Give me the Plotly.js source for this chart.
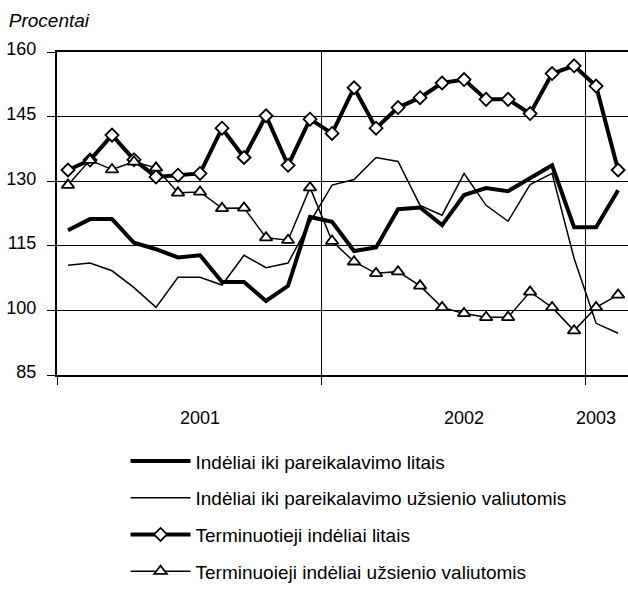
<!DOCTYPE html>
<html>
<head>
<meta charset="utf-8">
<script src="https://cdn.plot.ly/plotly-3.0.1.min.js"></script>
<style>html,body{margin:0;padding:0;background:#fff;}#chart{width:628px;height:594px;}</style>
</head>
<body>
<div id="chart"></div>
<script>
// period index (monthly observations)
const periods = [0,1,2,3,4,5,6,7,8,9,10,11,12,13,14,15,16,17,18,19,20,21,22,23,24,25];
const tickPositions = [6, 18, 24];
const tickLabels = ['2001', '2002', '2003'];
const yearBoundaries = [-0.5, 11.5, 23.5];

const seriesNames = [
  'Indėliai iki pareikalavimo litais',
  'Indėliai iki pareikalavimo užsienio valiutomis',
  'Terminuotieji indėliai litais',
  'Terminuoieji indėliai užsienio valiutomis'
];
const demandLitas = [118.6,121.2,121.2,115.7,114.2,112.3,112.8,106.6,106.6,102.2,105.7,121.7,120.6,113.8,114.6,123.5,123.9,119.8,126.8,128.4,127.7,130.6,133.7,119.3,119.3,127.9];
const demandForeign = [110.5,111.0,109.2,105.3,100.7,107.7,107.7,105.9,112.8,109.9,111.0,120.5,129.1,130.4,135.5,134.6,124.4,122.1,131.8,124.4,120.7,129.2,131.8,112.1,97.0,94.7];
const timeLitas = [132.6,134.9,140.7,135.0,131.0,131.4,131.8,142.3,135.5,145.2,133.7,144.4,141.1,151.7,142.3,147.1,149.4,152.8,153.6,149.0,149.0,145.7,155.0,156.8,152.1,132.6];
const timeForeign = [129.1,134.9,132.7,134.5,133.1,127.3,127.5,123.7,123.8,116.9,116.3,128.5,116.1,111.3,108.6,109.0,105.7,100.7,99.3,98.4,98.4,104.3,100.7,95.3,100.7,103.6];

const FONT = '"Liberation Sans", Arial, sans-serif';

const traces = [
  {x: periods, y: demandLitas, name: seriesNames[0], mode: 'lines', line: {color: '#000', width: 4}, legendgroup: 'a'},
  {x: periods, y: demandForeign, name: seriesNames[1], mode: 'lines', line: {color: '#000', width: 1.5}, legendgroup: 'b'},
  {x: periods, y: timeLitas, name: seriesNames[2], mode: 'lines+markers', line: {color: '#000', width: 4},
   marker: {symbol: 'diamond', size: 10, color: '#fff', line: {color: '#000', width: 1.8}}, legendgroup: 'c'},
  {x: periods, y: timeForeign, name: seriesNames[3], mode: 'lines+markers', line: {color: '#000', width: 1.5},
   marker: {symbol: 'triangle-up', size: 11, color: '#fff', line: {color: '#000', width: 1.8}}, legendgroup: 'd'}
];

const layout = {
  width: 628, height: 594,
  margin: {l: 57, r: 0, t: 52, b: 219},
  paper_bgcolor: '#fff', plot_bgcolor: '#fff',
  font: {family: FONT, color: '#000', size: 18},
  title: {text: 'Procentai', x: 0.014, xanchor: 'left', xref: 'container', y: 0.965, yanchor: 'middle', yref: 'container',
    font: {family: FONT, size: 19, style: 'italic', color: '#000'}},
  showlegend: true,
  legend: {x: 0.12, xref: 'paper', y: 0.2555, yref: 'container', xanchor: 'left', yanchor: 'top', traceorder: 'grouped', tracegroupgap: 9,
    font: {family: FONT, size: 19, color: '#000'}, itemwidth: 60, bgcolor: 'rgba(0,0,0,0)'},
  xaxis: {
    range: [-0.5, 25.45], zeroline: false, automargin: false,
    tickmode: 'array', tickvals: tickPositions, ticktext: tickLabels, ticks: '', showgrid: false,
    showline: true, linecolor: '#000', linewidth: 2, mirror: true,
    tickfont: {family: FONT, size: 18, color: '#000'}, ticklabelstandoff: 25,
    minor: {tickmode: 'array', tickvals: yearBoundaries, ticks: 'outside', ticklen: 8, tickcolor: '#000', tickwidth: 1,
      showgrid: true, gridcolor: '#000', gridwidth: 1}
  },
  yaxis: {
    range: [85, 160], tickmode: 'linear', tick0: 85, dtick: 15, zeroline: false, automargin: false,
    showgrid: true, gridcolor: '#000', gridwidth: 1,
    ticks: 'outside', ticklen: 8, tickcolor: '#000', tickwidth: 1,
    showline: true, linecolor: '#000', linewidth: 2,
    tickfont: {family: FONT, size: 18, color: '#000'}, ticklabelstandoff: 7, ticklabelshift: -3
  }
};

Plotly.newPlot('chart', traces, layout, {displayModeBar: false, staticPlot: true});
</script>
</body>
</html>
